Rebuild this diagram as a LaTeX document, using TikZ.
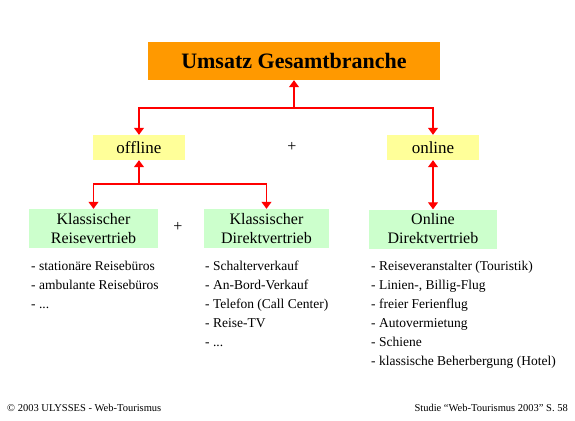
\documentclass[tikz,border=0pt]{standalone}
\usepackage{fontspec}
\setmainfont{Liberation Serif}
\usetikzlibrary{arrows.meta,positioning}
\definecolor{umsatzorange}{HTML}{FF9900}
\definecolor{kanalgelb}{HTML}{FFFF99}
\definecolor{vertriebgruen}{HTML}{CCFFCC}

\begin{document}
\begin{tikzpicture}[x=1pt,y=-1pt,
  topbox/.style={fill=umsatzorange,minimum width=292pt,minimum height=38pt,font=\fontsize{22}{24}\selectfont\bfseries},
  kanal/.style={fill=kanalgelb,minimum width=92pt,minimum height=25pt,font=\fontsize{17}{19}\selectfont},
  vbox/.style={fill=vertriebgruen,minimum height=39pt,align=center,font=\fontsize{16}{19}\selectfont},
  plus/.style={font=\fontsize{16}{18}\selectfont},
  liste/.style={anchor=north west,align=left,inner sep=0pt,font=\fontsize{13.5}{19}\selectfont},
  fuss/.style={inner sep=0pt,font=\fontsize{10.5}{12}\selectfont},
  pfeil/.style={draw=red,line width=1.1pt,-{Triangle[width=10pt,length=7pt]}},
  pfeilzwei/.style={draw=red,line width=1.1pt,{Triangle[width=10pt,length=7pt]}-{Triangle[width=10pt,length=7pt]}}]
  \useasboundingbox (0,0) rectangle (575,420);
  \node[topbox] (gesamt) at (294,61) {Umsatz Gesamtbranche};
  \node[kanal] (off) at (139,147.5) {offline};
  \node[kanal] (on) at (433,147.5) {online};
  \node[plus] (plusoben) at (292,147) {+};
  \node[vbox,minimum width=129pt] (reise) at (93.5,228.5) {Klassischer\\Reisevertrieb};
  \node[vbox,minimum width=125pt] (direkt) at (266.5,228.5) {Klassischer\\Direktvertrieb};
  \node[vbox,minimum width=128pt] (onldir) at (433,229) {Online\\Direktvertrieb};
  \node[plus] (plusunten) at (178,227) {+};
  \coordinate (joben) at (294,108); \coordinate (junten) at (139,184);
  \draw[pfeil] (joben) -- (gesamt.south);
  \draw[pfeil] (joben) -| (off.north); \draw[pfeil] (joben) -| (on.north);
  \draw[pfeil] (junten) -- (off.south);
  \draw[pfeil] (junten) -| (reise.north); \draw[pfeil] (junten) -| (direkt.north);
  \draw[pfeilzwei] (on.south) -- (onldir.north);
  \node[liste] (lreise) at (31,261) {- stationäre Reisebüros\\- ambulante Reisebüros\\- ...};
  \node[liste] (ldirekt) at (205,261) {- Schalterverkauf\\- An-Bord-Verkauf\\- Telefon (Call Center)\\- Reise-TV\\- ...};
  \node[liste] (lonl) at (371,261) {- Reiseveranstalter (Touristik)\\- Linien-, Billig-Flug\\- freier Ferienflug\\- Autovermietung\\- Schiene\\- klassische Beherbergung (Hotel)};
  \node[fuss,anchor=west] (copy) at (7,408) {\textcopyright{} 2003 ULYSSES - Web-Tourismus};
  \node[fuss,anchor=east] (studie) at (568,408) {Studie “Web-Tourismus 2003” S. 58};
\end{tikzpicture}
\end{document}
